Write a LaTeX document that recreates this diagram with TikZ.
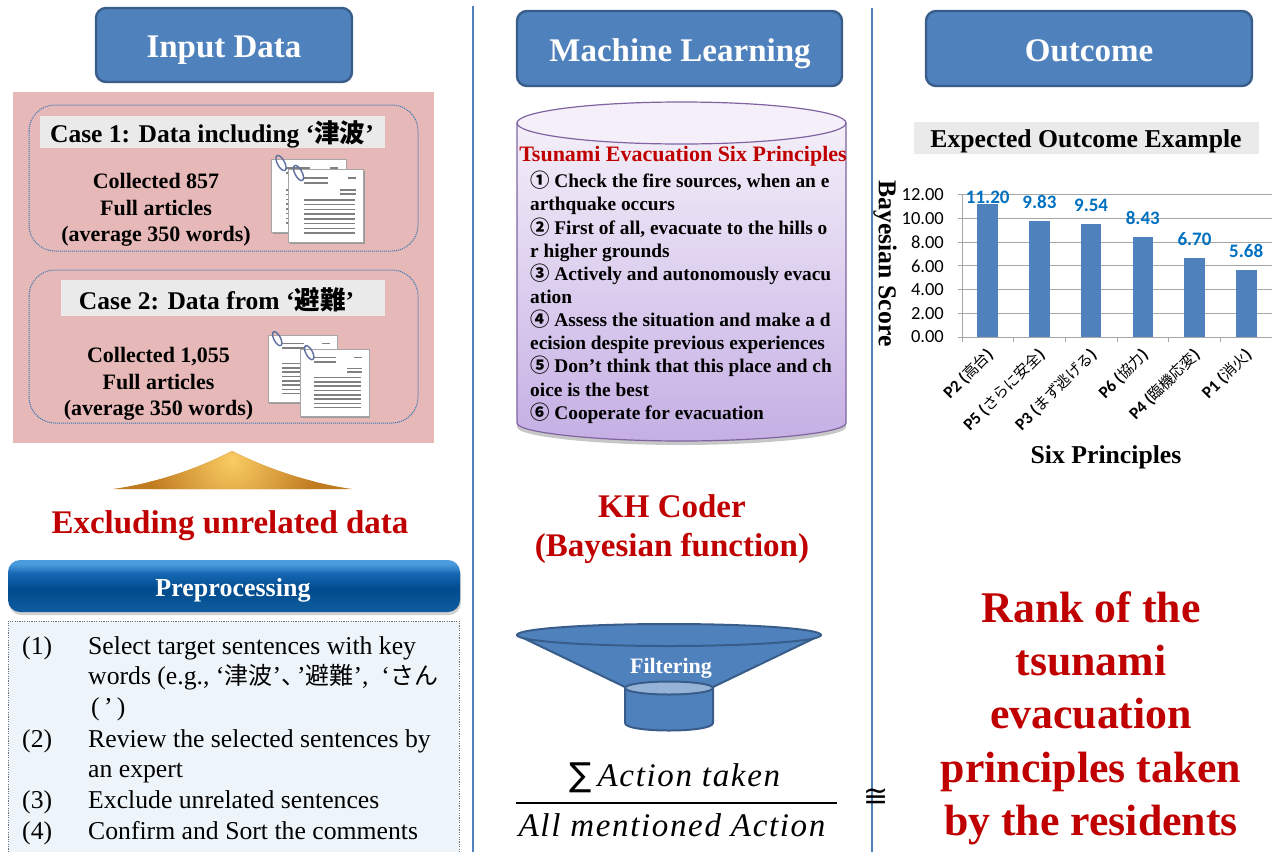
\documentclass[tikz,border=0pt]{standalone}
\usepackage{fontspec}
\setmainfont{Liberation Serif}
\newfontfamily\jpf{Noto Sans CJK JP}
\newfontfamily\djv{DejaVu Sans}
\newfontfamily\chartf{Carlito}
\newfontfamily\mathf[LetterSpace=5]{Liberation Serif}
\newcommand{\jp}[1]{{\jpf #1}}
\newcommand{\jps}[1]{{\fs{24}{30.6}\jpf #1}}
\newcommand{\jpc}[1]{{\fs{15}{17}\jpf\mdseries #1}}
\newcommand{\fs}[2]{\fontsize{#1}{#2}\selectfont}
\definecolor{boxblue}{HTML}{4F81BD}
\definecolor{boxedge}{HTML}{385D8A}
\definecolor{pinkbg}{HTML}{E6B8B7}
\definecolor{labelgrey}{HTML}{EAEAEA}
\definecolor{dotblue}{HTML}{2E75B6}
\definecolor{redtxt}{HTML}{C00000}
\definecolor{purpedge}{HTML}{8064A2}
\definecolor{valblue}{HTML}{0070C0}
\definecolor{listbg}{HTML}{EEF5FA}
\definecolor{cyltop}{HTML}{F4EFF9}
\definecolor{cylbot}{HTML}{C5AFE4}
\definecolor{clipcol}{HTML}{5F6F9F}
\definecolor{triin}{HTML}{F9CC62}
\definecolor{triout}{HTML}{C07A20}
\definecolor{barA}{HTML}{0E5C9F}
\definecolor{barB}{HTML}{004B8C}
\definecolor{barC}{HTML}{1566B2}
\definecolor{barD}{HTML}{4A9BDC}
\pgfdeclareverticalshading{barsh}{100bp}{color(0bp)=(barA);color(25bp)=(barA);color(47bp)=(barB);color(62bp)=(barC);color(71bp)=(barD);color(75bp)=(barD);color(100bp)=(barD)}
\tikzset{
  titlebox/.style={fill=boxblue,draw=boxedge,line width=2.4pt,rounded corners=10pt},
  titletext/.style={text=white,font=\bfseries\fs{33}{38}},
  dotbox/.style={draw=dotblue,line width=1pt,dash pattern=on 1pt off 1pt,rounded corners=26pt},
  labelbar/.style={fill=labelgrey},
  casehead/.style={font=\bfseries\fs{25.5}{30}},
  casebody/.style={font=\bfseries\fs{22}{26.4},align=center},
  redhead/.style={text=redtxt,font=\bfseries\fs{33}{39},align=center},
  listlab/.style={font=\fs{25.7}{30.6},anchor=north west,inner sep=0pt},
  listtxt/.style={font=\fs{25.7}{30.6},anchor=north west,inner sep=0pt,align=left},
  divider/.style={draw=boxblue,line width=1.5pt},
  grid/.style={draw=black!35,line width=1pt},
  bar/.style={fill=boxblue},
  val/.style={text=valblue,font=\chartf\bfseries\fs{19}{21}},
  ytick/.style={font=\chartf\fs{18.5}{20},anchor=east,inner sep=0pt},
  cat/.style={font=\chartf\bfseries\fs{17}{18},rotate=45,anchor=east,inner sep=0pt},
  pline/.style={draw=black!50,line width=1.4pt}
}
\newcommand{\docpage}[3]{%
  \begin{scope}[shift={(#1,#2)},xscale=#3,yscale=#3]
    \fill[black!40] (1.5,1.5) rectangle (76,75);
    \fill[white] (0,0) rectangle (75,73);
    \draw[black!35,line width=.6pt] (0,0) rectangle (75,73);
    \draw[pline] (15,9) -- (39,9) (15,14) -- (39,14) (59,9) -- (67,9) (51,21) -- (67,21) (51,25) -- (67,25);
    \foreach \yy in {31,35.7,...,65} {\draw[pline] (15,\yy) -- (66,\yy);}
    \draw[draw=clipcol,line width=1.4pt] (10,4) ellipse [x radius=3.6,y radius=8.4,rotate=28];
  \end{scope}}
\begin{document}
\begin{tikzpicture}[x=1pt,y=-1pt]
\path[use as bounding box,fill=white] (0,0) rectangle (1277,852);
% dividers
\coordinate (d1a) at (473,6); \coordinate (d1b) at (473,852);
\coordinate (d2a) at (872,8); \coordinate (d2b) at (872,852);
\draw[divider] (d1a) -- (d1b);
\draw[divider] (d2a) -- (d2b);
% column titles
\draw[titlebox] (96,8) rectangle (352,82);
\node[titletext] (tinput) at (224,50) {Input Data};
\draw[titlebox] (517,11) rectangle (842,86);
\node[titletext] (tml) at (680,54) {Machine Learning};
\draw[titlebox] (926,11) rectangle (1252,86);
\node[titletext] (tout) at (1089,51) {Outcome};
% input panel
\fill[pinkbg] (13,92) rectangle (434,443);
\draw[dotbox] (29,105) rectangle (418,251);
\draw[dotbox] (29,270) rectangle (418,423);
\fill[labelbar] (40,116) rectangle (385,148);
\fill[labelbar] (61,280) rectangle (385,316);
\node[casehead] (c1) at (212,134) {Case 1: Data including ‘\jp{津波}’};
\node[casehead] (c2) at (216.5,300) {Case 2: Data from ‘\jp{避難}’};
\node[casebody] (c1b) at (156,210) {Collected 857\\Full articles\\(average 350 words)};
\node[casebody] (c2b) at (158.5,384) {Collected 1,055\\Full articles\\(average 350 words)};
\docpage{271}{159}{1}
\docpage{288.5}{169}{1}
\docpage{268}{335}{.92}
\docpage{300}{349}{.92}
% triangle
\begin{scope}
  \clip (232,451) .. controls (195,470) and (155,483) .. (113,489) -- (352,489) .. controls (310,483) and (270,470) .. (232,451) -- cycle;
  \fill[triout] (100,445) rectangle (365,495);
  \shade[inner color=triin,outer color=triout] (232,460) circle (85);
\end{scope}
\node[redhead] (excl) at (230,526) {Excluding unrelated data};
% preprocessing bar
\fill[black!18,rounded corners=12pt] (9,563) rectangle (461,615);
\shade[rounded corners=12pt,shading=barsh] (8,560) rectangle (460,612);
\node[text=white,font=\bfseries\fs{26}{30}] (prep) at (233,590) {Preprocessing};
% preprocessing list
\fill[listbg] (8,621) rectangle (459,852);
\draw[black!55,line width=1pt,dash pattern=on 1.2pt off 1.2pt] (8,852) -- (8,621) -- (459,621) -- (459,852);
\node[listlab] (l1) at (22,636) {(1)};
\node[listtxt] (t1) at (88,636) {Select target sentences with key\\words (e.g., ‘\jps{津波}’\jps{、}\hspace{-8pt}’\jps{避難}’,\ \ ‘\jps{さん}\\\hspace{3pt}(\,’\,)};
\node[listlab] (l2) at (22,729) {(2)};
\node[listtxt] (t2) at (88,729) {Review the selected sentences by\\an expert};
\node[listlab] (l3) at (22,790) {(3)};
\node[listtxt] (t3) at (88,790) {Exclude unrelated sentences};
\node[listlab] (l4) at (22,821) {(4)};
\node[listtxt] (t4) at (88,821) {Confirm and Sort the comments};
% cylinder
\fill[black!22] (517,127) -- (517,427) .. controls (517,437) and (600,445) .. (681.5,445) .. controls (763,445) and (846,437) .. (846,427) -- (846,127) -- cycle;
\shade[top color=cyltop,bottom color=cylbot,draw=purpedge,line width=1.2pt] (517,123) -- (517,423) .. controls (517,433) and (600,441) .. (681.5,441) .. controls (763,441) and (846,433) .. (846,423) -- (846,123) -- cycle;
\draw[purpedge,line width=1.2pt,fill=cyltop] (681.5,123) ellipse [x radius=164.5,y radius=21];
\node[text=redtxt,font=\bfseries\fs{22}{26}] (ctitle) at (683,156) {Tsunami Evacuation Six Principles};
\node[font=\bfseries\fs{19.35}{23.15},anchor=north west,inner sep=0pt,align=left] (clist) at (530,171) {\jp{①} Check the fire sources, when an e\\arthquake occurs\\\jp{②} First of all, evacuate to the hills o\\r higher grounds\\\jp{③} Actively and autonomously evacu\\ation\\\jp{④} Assess the situation and make a d\\ecision despite previous experiences\\\jp{⑤} Don’t think that this place and ch\\oice is the best\\\jp{⑥} Cooperate for evacuation};
\node[redhead] (kh) at (672,529) {KH Coder\\(Bayesian function)};
% funnel
\fill[boxblue,draw=boxedge,line width=2pt,line join=round] (517,635) -- (625,687) -- (625,723) .. controls (625,733) and (713,733) .. (713,723) -- (713,687) -- (821,635) -- cycle;
\draw[boxedge,line width=2pt,fill=boxblue] (669,635) ellipse [x radius=152,y radius=11];
\draw[boxedge,line width=2pt,fill=boxblue!60!white] (669,688) ellipse [x radius=44,y radius=6.5];
\node[text=white,font=\bfseries\fs{22}{26}] (filt) at (671,668) {Filtering};
% fraction
\node[font=\fs{33}{38}] (num) at (675,778) {{\djv ∑}\,{\mathf\itshape Action taken}};
\coordinate (fa) at (516,803); \coordinate (fb) at (837,803);
\draw[line width=2.6pt] (fa) -- (fb);
\node[font=\fs{33}{38}] (den) at (672,825) {{\mathf\itshape All mentioned Action}};
\node[font=\djv\fs{30}{32}] (cong) at (876,798) {≅};
% chart
\fill[labelbar] (914,122) rectangle (1259,154);
\node[font=\bfseries\fs{25.7}{30}] (ex) at (1086,141) {Expected Outcome Example};
\foreach \i/\lab in {0/0.00,1/2.00,2/4.00,3/6.00,4/8.00,5/10.00,6/12.00}{
  \pgfmathsetmacro{\yy}{337-23.67*\i}
  \draw[grid] (958,\yy) -- (1272,\yy);
  \node[ytick] (y\i) at (944,\yy) {\lab};
}
\draw[grid] (962,195) -- (962,337);
\foreach \i in {0,...,5}{\pgfmathsetmacro{\xx}{962+51.7*\i}\draw[grid] (\xx,337) -- (\xx,342);}
\foreach \i/\v/\t/\off/\c in {0/11.20/11.20/7/P2 (\jpc{高台}),1/9.83/9.83/19/P5 (\jpc{さらに安全}),2/9.54/9.54/19/P3 (\jpc{まず逃げる}),3/8.43/8.43/19/P6 (\jpc{協力}),4/6.70/6.70/19/P4 (\jpc{臨機応変}),5/5.68/5.68/19/P1 (\jpc{消火})}{
  \pgfmathsetmacro{\xx}{987.7+51.7*\i}
  \pgfmathsetmacro{\yy}{337-11.835*\v}
  \fill[bar] ({\xx-10.3},\yy) rectangle ({\xx+10.3},336.5);
  \node[val,inner sep=0pt] (v\i) at (\xx,{\yy-\off}) {\t};
  \node[cat] (c\i) at ({\xx+3},352) {\c};
}
\node[font=\bfseries\fs{25.7}{30},rotate=-90] (yl) at (885,263.5) {Bayesian Score};
\node[font=\bfseries\fs{25.7}{30}] (xl) at (1106,457) {Six Principles};
\node[text=redtxt,font=\bfseries\fs{43.8}{53.3},align=center] (rank) at (1091,718) {Rank of the\\tsunami\\evacuation\\principles taken\\by the residents};
\end{tikzpicture}
\end{document}
